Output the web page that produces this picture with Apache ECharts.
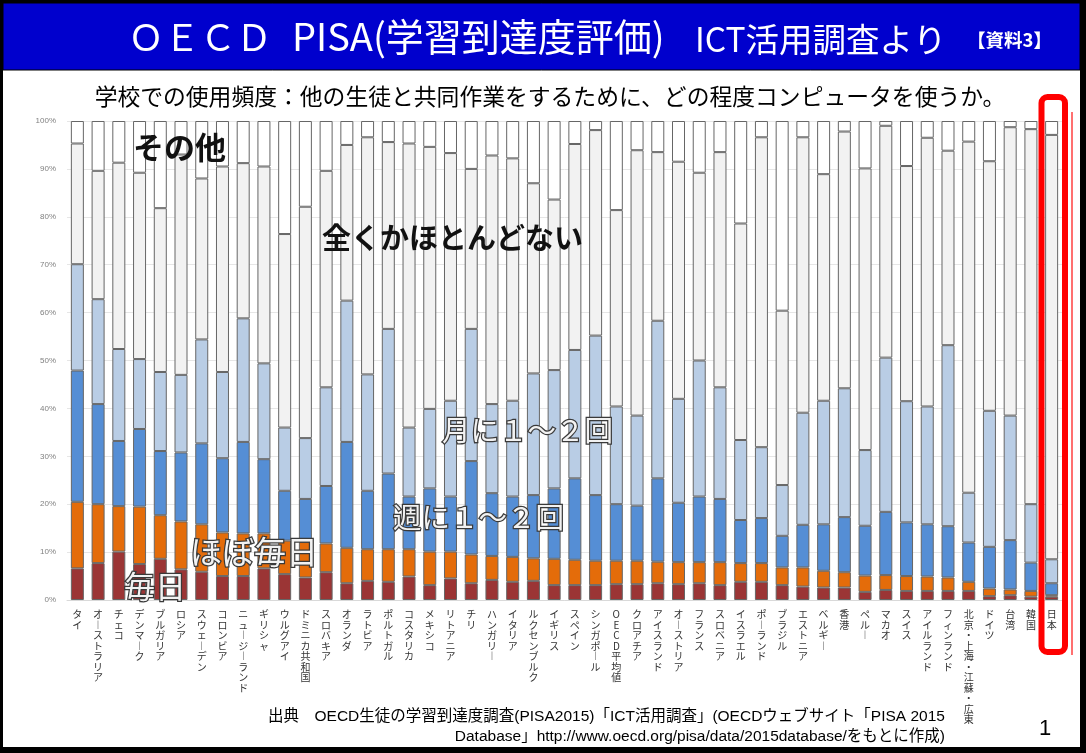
<!DOCTYPE html>
<html>
<head>
<meta charset="utf-8">
<script src="https://cdn.jsdelivr.net/npm/echarts@6/dist/echarts.min.js"></script>
<style>
  html, body { margin: 0; padding: 0; background: #fff; }
  #main { width: 1086px; height: 753px; }
</style>
</head>
<body>
<div id="main"></div>
<script>
// 国・地域（左から順に）
var countries = ['タイ', 'オーストラリア', 'チェコ', 'デンマーク', 'ブルガリア', 'ロシア', 'スウェーデン', 'コロンビア',
  'ニュージーランド', 'ギリシャ', 'ウルグアイ', 'ドミニカ共和国', 'スロバキア', 'オランダ', 'ラトビア', 'ポルトガル',
  'コスタリカ', 'メキシコ', 'リトアニア', 'チリ', 'ハンガリー', 'イタリア', 'ルクセンブルク', 'イギリス',
  'スペイン', 'シンガポール', 'OECD平均値', 'クロアチア', 'アイスランド', 'オーストリア', 'フランス', 'スロベニア',
  'イスラエル', 'ポーランド', 'ブラジル', 'エストニア', 'ベルギー', '香港', 'ペルー', 'マカオ',
  'スイス', 'アイルランド', 'フィンランド', '北京・上海・江蘇・広東', 'ドイツ', '台湾', '韓国', '日本'];

// 各頻度の割合(%) 図から読み取り
var daily = [6.6, 7.7, 10.1, 7.5, 8.6, 6.4, 5.9, 5.0, 5.0, 6.6, 5.4, 4.7, 5.8, 3.5, 4.0, 3.8,
  4.9, 3.1, 4.5, 3.5, 4.2, 3.8, 4.0, 3.1, 3.1, 3.1, 3.3, 3.3, 3.5, 3.3, 3.5, 3.1,
  3.8, 3.8, 3.1, 2.8, 2.6, 2.6, 1.7, 2.1, 1.9, 1.9, 1.9, 1.9, 0.8, 1.0, 0.7, 0.7];
var almostDaily = [13.9, 12.3, 9.5, 12.0, 9.1, 10.0, 9.9, 9.1, 8.9, 7.3, 7.0, 7.4, 6.0, 7.4, 6.6, 6.8,
  5.7, 7.0, 5.6, 6.0, 5.0, 5.2, 4.7, 5.5, 5.3, 5.1, 4.9, 4.9, 4.5, 4.6, 4.4, 4.8,
  3.9, 3.9, 3.7, 4.0, 3.5, 3.2, 3.4, 3.1, 3.1, 3.0, 2.8, 1.9, 1.6, 1.2, 1.2, 0.3];
var weekly = [27.4, 20.9, 13.6, 16.2, 13.4, 14.4, 16.9, 15.5, 19.1, 15.5, 10.4, 9.0, 12.0, 22.1, 12.2, 15.8,
  11.0, 13.2, 11.5, 19.5, 13.1, 12.6, 13.2, 14.7, 17.0, 13.7, 11.8, 11.5, 17.4, 12.4, 13.7, 13.2,
  9.0, 9.4, 6.6, 8.9, 9.7, 11.5, 10.4, 13.2, 11.2, 10.9, 10.7, 8.2, 8.7, 10.3, 5.9, 2.5];
var monthly = [22.2, 21.9, 19.2, 14.6, 16.5, 16.2, 21.7, 18.0, 25.8, 20.0, 13.2, 12.7, 20.6, 29.5, 24.3, 30.2,
  14.4, 16.6, 20.0, 27.6, 18.6, 20.0, 25.4, 24.7, 26.8, 33.3, 20.4, 18.8, 32.9, 21.7, 28.4, 23.3,
  16.7, 14.8, 10.6, 23.4, 25.8, 26.9, 15.8, 32.2, 25.3, 24.6, 37.8, 10.4, 28.4, 26.0, 12.2, 5.0];
var never = [25.2, 26.8, 38.9, 38.9, 34.2, 46.0, 33.6, 42.9, 32.4, 41.1, 40.4, 48.3, 45.2, 32.5, 49.5, 39.0,
  59.3, 54.7, 51.7, 33.4, 51.9, 50.6, 39.7, 35.6, 43.0, 42.9, 41.0, 55.4, 35.2, 49.5, 39.2, 49.1,
  45.2, 64.7, 36.4, 57.5, 47.3, 53.6, 58.8, 48.4, 49.1, 56.1, 40.6, 73.3, 52.1, 60.2, 78.3, 88.6];
var other = [4.7, 10.4, 8.7, 10.8, 18.2, 7.0, 12.0, 9.5, 8.8, 9.5, 23.6, 17.9, 10.4, 5.0, 3.4, 4.4,
  4.7, 5.4, 6.7, 10.0, 7.2, 7.8, 13.0, 16.4, 4.8, 1.9, 18.6, 6.1, 6.5, 8.5, 10.8, 6.5,
  21.4, 3.4, 39.6, 3.4, 11.1, 2.2, 9.9, 1.0, 9.4, 3.5, 6.2, 4.3, 8.4, 1.3, 1.7, 2.9];

var seriesNames = ['毎日', 'ほぼ毎日', '週に1～2回', '月に1～2回', '全くかほとんどない', 'その他'];
var seriesData = [daily, almostDaily, weekly, monthly, never, other];
var seriesColors = ['#9b3535', '#e46c0a', '#558ed5', '#b9cde5', '#f2f2f2', '#ffffff'];

var JP = '"Noto Sans CJK JP", "Noto Sans", sans-serif';

var myChart = echarts.init(document.getElementById('main'));

// 図中の説明文字（白抜き）
function outlined(text, x, y, size) {
    return {
        type: 'text', x: x, y: y, z: 100,
        style: {
            text: text, fontSize: size, fontFamily: JP,
            fill: '#f2f2f2', stroke: '#3a3a3a', lineWidth: 2.5,
            shadowBlur: 3, shadowColor: 'rgba(0,0,0,0.45)',
            align: 'left', verticalAlign: 'middle'
        }
    };
}

var series = seriesNames.map(function (name, i) {
    return {
        name: name,
        type: 'bar',
        stack: 'total',
        barWidth: 13,
        silent: true,
        itemStyle: { color: seriesColors[i], borderColor: '#666', borderWidth: 1 },
        data: seriesData[i]
    };
});

myChart.setOption({
    animation: false,
    backgroundColor: '#fff',
    grid: { left: 67, right: 24, top: 121, bottom: 153 },
    xAxis: {
        type: 'category',
        data: countries,
        axisTick: { show: false },
        axisLine: { lineStyle: { color: '#d9d9d9' } },
        axisLabel: {
            interval: 0,
            margin: 9,
            fontSize: 10,
            lineHeight: 10.5,
            color: '#333',
            fontFamily: JP,
            // 縦書き風に一文字ずつ改行
            formatter: function (v) {
                return v.split('').map(function (c) { return c === 'ー' ? '︱' : c; }).join('\n');
            }
        }
    },
    yAxis: {
        type: 'value',
        min: 0, max: 100, interval: 10,
        axisLine: { show: false },
        axisTick: { show: false },
        axisLabel: { formatter: '{value}%', fontSize: 8, color: '#808080', margin: 11, fontFamily: 'Liberation Sans' },
        splitLine: { lineStyle: { color: '#e6e6e6' } }
    },
    series: series,
    graphic: [
        // 外枠
        { type: 'rect', z: -100, shape: { x: 0, y: 0, width: 1086, height: 753 }, style: { fill: '#000' } },
        { type: 'rect', z: -99, shape: { x: 3, y: 3, width: 1077, height: 744 }, style: { fill: '#fff' } },
        // タイトル帯
        { type: 'rect', z: -98, shape: { x: 3, y: 3, width: 1077, height: 67 }, style: { fill: '#0000cd', stroke: '#000', lineWidth: 1 } },
        { type: 'text', x: 128, y: 37, z: 100, style: { text: 'ＯＥＣＤ', fontSize: 36, fontFamily: JP, fill: '#fff', verticalAlign: 'middle' } },
        { type: 'text', x: 292, y: 37, z: 100, style: { text: 'PISA(学習到達度評価)', fontSize: 38, fontFamily: JP, fill: '#fff', verticalAlign: 'middle' } },
        { type: 'text', x: 695, y: 39, z: 100, style: { text: 'ICT活用調査より', fontSize: 33.5, fontFamily: JP, fill: '#fff', verticalAlign: 'middle' } },
        { type: 'text', x: 967, y: 40, z: 100, style: { text: '【資料3】', fontSize: 18.5, fontWeight: 'bold', fontFamily: JP, fill: '#fff', verticalAlign: 'middle' } },
        // 小見出し
        { type: 'text', x: 550, y: 96, z: 100, style: { text: '学校での使用頻度：他の生徒と共同作業をするために、どの程度コンピュータを使うか。', fontSize: 22.8, fontFamily: JP, fill: '#000', align: 'center', verticalAlign: 'middle' } },
        // 凡例代わりの文字
        { type: 'text', x: 133, y: 147, z: 100, style: { text: 'その他', fontSize: 31, fontWeight: 'bold', fontFamily: JP, fill: '#111', verticalAlign: 'middle' } },
        { type: 'text', x: 322, y: 238, z: 100, style: { text: '全くかほとんどない', fontSize: 29, fontWeight: 'bold', fontFamily: JP, fill: '#111', verticalAlign: 'middle' } },
        outlined('月に１～２回', 442, 430, 28.5),
        outlined('週に１～２回', 393, 517, 28.5),
        outlined('ほぼ毎日', 190, 552, 32),
        outlined('毎日', 124, 586, 31),
        // 日本を囲む赤枠
        { type: 'rect', z: 100, shape: { x: 1041.5, y: 97, width: 23.5, height: 555, r: 6 }, style: { fill: 'none', stroke: '#ff0000', lineWidth: 6 } },
        { type: 'line', z: 100, shape: { x1: 1072, y1: 112, x2: 1072, y2: 655 }, style: { stroke: '#ff4040', lineWidth: 1.5 } },
        // 出典
        { type: 'text', x: 268, y: 717, z: 100, style: { text: '出典　OECD生徒の学習到達度調査(PISA2015)「ICT活用調査」(OECDウェブサイト「PISA 2015', fontSize: 15.5, fontFamily: '"Liberation Sans", ' + JP, fill: '#000', verticalAlign: 'middle' } },
        { type: 'text', x: 945, y: 737, z: 100, style: { text: 'Database」http://www.oecd.org/pisa/data/2015database/をもとに作成)', fontSize: 15.5, fontFamily: '"Liberation Sans", ' + JP, fill: '#000', align: 'right', verticalAlign: 'middle' } },
        { type: 'text', x: 1045, y: 729, z: 100, style: { text: '1', fontSize: 22, fontFamily: 'Liberation Sans', fill: '#000', align: 'center', verticalAlign: 'middle' } }
    ]
});
</script>
</body>
</html>
